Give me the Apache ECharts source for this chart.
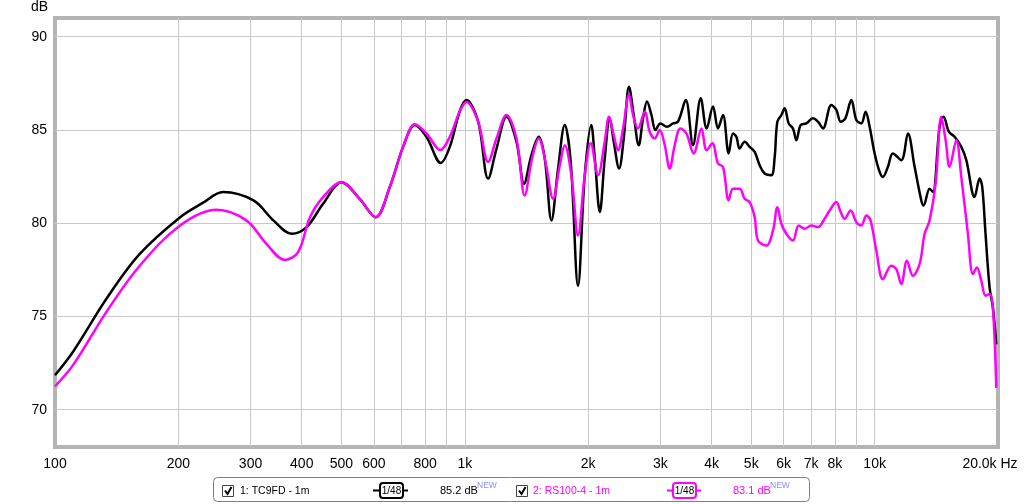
<!DOCTYPE html>
<html><head><meta charset="utf-8">
<script src="https://cdn.jsdelivr.net/npm/echarts@6/dist/echarts.min.js"></script>
<style>html,body{margin:0;padding:0;background:#fff}#c{width:1024px;height:504px}</style>
</head><body><div id="c"></div>
<script>
const tc9fdFreq = [100,111,134,161,202,230,257,305,341,378,411,451,500,554,606,656,707,755,806,874,919,972,1009,1078,1140,1195,1264,1337,1395,1454,1515,1567,1627,1689,1753,1813,1889,1962,2035,2076,2135,2195,2258,2309,2379,2442,2516,2583,2657,2722,2783,2854,2918,3001,3114,3221,3313,3460,3604,3764,3891,4033,4147,4266,4404,4512,4598,4684,4818,4955,5097,5242,5391,5598,5703,5789,5922,6032,6169,6320,6442,6599,6814,7071,7273,7480,7841,8065,8263,8482,8774,9024,9281,9506,9723,10000,10285,10476,10775,11080,11616,12057,12519,12998,13167,13618,13874,14405,14732,15178,15672,16274,16738,17534,18035,18306,18647,19076,19433,19807];
const tc9fdDb = [71.85,73.15,76.0,78.35,80.32,81.1,81.67,81.22,80.15,79.43,79.79,81.04,82.2,81.3,80.32,81.94,84.09,85.26,84.63,83.23,84.09,86.0,86.6,85.44,82.39,84.0,85.71,84.36,82.12,83.65,84.63,83.47,80.15,82.93,85.26,83.29,76.65,82.57,85.26,83.47,80.6,83.47,85.62,84.36,82.93,84.54,87.32,85.8,84.18,85.62,86.52,85.8,84.99,85.35,85.17,85.35,85.44,86.6,84.18,86.7,85.08,86.25,85.08,85.8,83.74,84.81,84.63,84.0,84.36,84.09,83.82,83.1,82.66,82.57,83.55,85.44,85.8,86.16,85.35,85.08,84.45,85.26,85.35,85.62,85.44,85.08,86.34,86.07,85.44,85.62,86.6,85.53,85.35,85.98,85.17,83.74,82.75,82.48,83.02,83.74,83.38,84.81,83.02,81.22,80.95,81.85,81.67,85.17,85.71,84.9,84.63,84.09,83.38,81.4,82.39,81.94,79.43,76.56,75.48,73.5];
const rs100Freq = [100,111,134,161,202,248,293,328,364,392,419,451,500,554,606,656,707,755,806,872,919,972,1009,1078,1140,1195,1264,1337,1400,1459,1515,1573,1642,1705,1753,1820,1889,1962,2029,2114,2195,2249,2309,2365,2433,2516,2573,2647,2748,2826,2906,2989,3075,3162,3252,3358,3473,3618,3779,3891,4019,4147,4266,4404,4512,4684,4818,4955,5097,5192,5444,5650,5789,5922,6089,6320,6525,6750,7009,7273,7551,7766,8065,8263,8448,8740,9024,9281,9545,9773,10095,10476,10982,11296,11616,11989,12399,12876,13244,13618,14086,14540,14902,15237,15823,16274,16889,17369,17762,18206,18647,19076,19433,19807];
const rs100Db = [71.25,72.43,75.3,77.72,79.88,80.72,80.15,78.89,78.03,78.45,80.32,81.4,82.2,81.3,80.32,81.94,84.09,85.3,84.81,83.92,84.63,86.0,86.5,85.44,83.29,84.54,85.8,84.54,81.49,83.47,84.54,83.29,81.31,83.1,84.18,82.57,79.34,82.57,84.28,82.57,84.36,85.71,84.72,83.91,85.08,86.88,85.8,85.08,85.98,84.9,84.54,84.99,84.18,82.93,84.18,85.08,84.81,83.74,85.08,83.91,84.28,83.2,83.02,81.22,81.85,81.85,81.31,81.13,80.32,79.07,78.8,79.61,80.86,79.97,79.43,79.07,79.88,79.7,79.88,79.79,80.24,80.68,81.13,80.6,80.24,80.68,80.05,79.88,80.41,80.15,78.53,77.0,77.72,77.54,76.74,77.99,77.18,77.81,79.43,80.15,82.12,85.71,84.45,83.02,84.45,82.48,79.43,77.27,77.63,76.92,76.11,76.2,75.48,71.17];
const gridFreqs = [200,300,400,500,600,700,800,900,1000,2000,3000,4000,5000,6000,7000,8000,9000,10000];
const labelFreqs = [100,200,300,400,500,600,800,1000,2000,3000,4000,5000,6000,7000,8000,10000,20000];
const dbTicks = [70,75,80,85,90];
const seriesNames = ['1: TC9FD - 1m','2: RS100-4 - 1m'];
const avgLabels = ['85.2 dB','83.1 dB'];
const colors = ['#000000','#ff00ff'];

const FONT = 'Liberation Sans, Arial, sans-serif';
const pairs = (f, d) => f.map((v, i) => [v, d[i]]);

function legendItem(idx) {
  const c = colors[idx];
  const offs = idx === 0 ? {chk:222, name:240, line1:373, line2:408, box:380, avg:440, neu:477}
                         : {chk:516, name:533, line1:667, line2:701, box:673, avg:733, neu:770};
  return [
    {type:'rect', shape:{x:offs.chk+0.5, y:485.5, width:11, height:11}, style:{fill:'#fff', stroke:'#444', lineWidth:1}},
    {type:'polyline', shape:{points:[[offs.chk+3,490.5],[offs.chk+5.5,494],[offs.chk+9.5,487]]}, style:{stroke:'#000', lineWidth:2, fill:null}},
    {type:'text', x:offs.name, y:491, style:{text:seriesNames[idx], font:'10.5px '+FONT, fill:c, verticalAlign:'middle'}},
    {type:'line', shape:{x1:offs.line1, y1:490.5, x2:offs.line2, y2:490.5}, style:{stroke:c, lineWidth:2}},
    {type:'rect', shape:{x:offs.box, y:483, width:23, height:15, r:3}, style:{fill:'#fff', stroke:c, lineWidth:2}},
    {type:'text', x:offs.box+11.5, y:491, style:{text:'1/48', font:'10px '+FONT, fill:'#000', align:'center', verticalAlign:'middle'}},
    {type:'text', x:offs.avg, y:491, style:{text:avgLabels[idx], font:'11px '+FONT, fill:c, verticalAlign:'middle'}},
    {type:'text', x:offs.neu, y:485.5, style:{text:'NEW', font:'8.5px '+FONT, fill:'#8c8cff', verticalAlign:'middle'}}
  ];
}

const chart = echarts.init(document.getElementById('c'), null, {renderer:'canvas'});
chart.setOption({
  animation:false,
  backgroundColor:'#fff',
  grid:{left:55, right:26, top:18, bottom:57, show:true, borderColor:'#b4b4b4', borderWidth:4, backgroundColor:'#fff'},
  xAxis:{
    type:'log', logBase:10, min:100, max:20000,
    axisLine:{show:false},
    axisTick:{show:false, customValues:gridFreqs},
    splitLine:{show:true, lineStyle:{color:'#c8c8c8', width:1}},
    axisLabel:{
      customValues:labelFreqs, margin:10, fontSize:14, fontFamily:FONT, color:'#000',
      formatter:function(v){
        const r = Math.round(v);
        if (r === 20000) return '{e|20.0k Hz}';
        return r >= 1000 ? (r/1000)+'k' : String(r);
      },
      rich:{e:{fontSize:14, fontFamily:FONT, color:'#000', padding:[0,16,0,0]}}
    }
  },
  yAxis:{
    type:'value', min:68, max:91,
    axisLine:{show:false},
    axisTick:{show:false, customValues:dbTicks},
    splitLine:{show:true, lineStyle:{color:'#c8c8c8', width:1}},
    axisLabel:{customValues:dbTicks, margin:8, fontSize:14, fontFamily:FONT, color:'#000'}
  },
  series:[
    {type:'line', name:seriesNames[0], data:pairs(tc9fdFreq, tc9fdDb), showSymbol:false, smooth:0.35,
     lineStyle:{color:colors[0], width:2.5}, itemStyle:{color:colors[0]}, z:2},
    {type:'line', name:seriesNames[1], data:pairs(rs100Freq, rs100Db), showSymbol:false, smooth:0.35,
     lineStyle:{color:colors[1], width:2.5}, itemStyle:{color:colors[1]}, z:3}
  ],
  graphic:[
    {type:'text', left:31, top:0, style:{text:'dB', font:'14px '+FONT, fill:'#000'}},
    {type:'rect', shape:{x:213.5, y:477.5, width:596, height:24, r:4}, style:{fill:'#fff', stroke:'#808080', lineWidth:1}},
    ...legendItem(0), ...legendItem(1)
  ]
});
</script></body></html>
